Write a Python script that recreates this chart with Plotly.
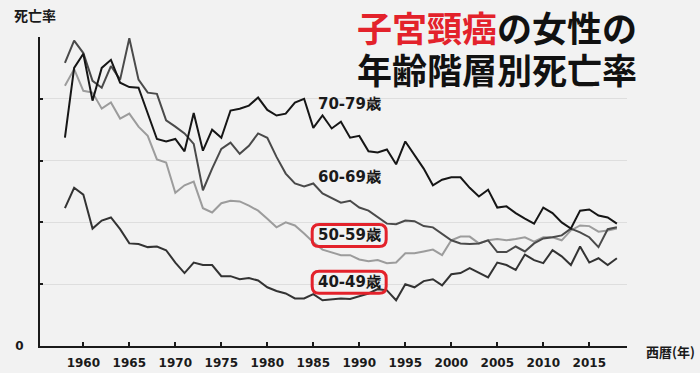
import plotly.graph_objects as go

years = list(range(1958, 2019))

rate_70_79 = [3.37, 4.50, 4.73, 3.97, 4.50, 4.63, 4.26, 4.19, 4.18, 3.77,
              3.35, 3.31, 3.35, 3.15, 3.77, 3.16, 3.50, 3.37, 3.81, 3.84,
              3.89, 4.02, 3.82, 3.73, 3.76, 3.94, 4.00, 3.53, 3.73, 3.52,
              3.63, 3.37, 3.40, 3.15, 3.13, 3.18, 2.94, 3.31, 3.08, 2.87,
              2.60, 2.69, 2.73, 2.73, 2.56, 2.42, 2.53, 2.24, 2.26, 2.15,
              2.06, 1.98, 2.24, 2.15, 2.00, 1.90, 2.19, 2.21, 2.11, 2.08,
              1.98]

rate_60_69 = [4.58, 4.94, 4.74, 4.29, 4.18, 4.53, 4.31, 4.98, 4.31, 4.10,
              4.08, 3.65, 3.55, 3.44, 3.27, 2.52, 2.87, 3.19, 3.29, 3.11,
              3.24, 3.44, 3.37, 3.06, 2.79, 2.63, 2.58, 2.63, 2.47, 2.40,
              2.32, 2.35, 2.24, 2.19, 2.08, 1.98, 1.97, 2.03, 2.02, 1.94,
              1.92, 1.82, 1.71, 1.66, 1.65, 1.66, 1.71, 1.52, 1.52, 1.61,
              1.53, 1.66, 1.74, 1.76, 1.79, 1.90, 1.84, 1.76, 1.60, 1.89,
              1.92]

rate_50_59 = [4.21, 4.48, 4.13, 4.10, 3.84, 3.94, 3.68, 3.76, 3.55, 3.40,
              3.02, 2.97, 2.48, 2.60, 2.66, 2.23, 2.16, 2.31, 2.35, 2.34,
              2.27, 2.19, 2.06, 1.92, 2.00, 1.95, 1.82, 1.68, 1.56, 1.52,
              1.47, 1.47, 1.40, 1.37, 1.39, 1.34, 1.35, 1.50, 1.50, 1.53,
              1.56, 1.47, 1.71, 1.77, 1.77, 1.66, 1.71, 1.73, 1.71, 1.73,
              1.76, 1.69, 1.76, 1.76, 1.71, 1.87, 1.95, 1.94, 1.85, 1.87,
              1.90]

rate_40_49 = [2.23, 2.56, 2.45, 1.90, 2.03, 2.08, 1.89, 1.66, 1.65, 1.60,
              1.61, 1.55, 1.35, 1.18, 1.35, 1.31, 1.31, 1.13, 1.13, 1.08,
              1.10, 1.06, 0.95, 0.89, 0.85, 0.77, 0.77, 0.84, 0.74, 0.76,
              0.77, 0.76, 0.81, 0.85, 0.92, 0.90, 0.74, 1.00, 0.95, 1.05,
              1.08, 0.98, 1.16, 1.18, 1.26, 1.18, 1.11, 1.35, 1.31, 1.23,
              1.48, 1.39, 1.34, 1.55, 1.45, 1.31, 1.61, 1.35, 1.42, 1.31,
              1.42]

series_names = ["50-59歳", "40-49歳", "60-69歳", "70-79歳"]
x_tick_years = [1960, 1965, 1970, 1975, 1980, 1985, 1990, 1995, 2000, 2005, 2010, 2015]
y_tick_vals = [0, 1, 2, 3, 4, 5]
y_tick_text = ["0", "", "", "", "", ""]

BG = "#f2f2f2"
TXT = "#1a1a1a"
RED = "#e3222b"

fig = go.Figure()
series = [
    (series_names[0], rate_50_59, "#9c9c9c"),
    (series_names[1], rate_40_49, "#333333"),
    (series_names[2], rate_60_69, "#4a4a4a"),
    (series_names[3], rate_70_79, "#161616"),
]
for name, vals, col in series:
    fig.add_trace(go.Scatter(x=years, y=vals, mode="lines", name=name,
                             line=dict(color=col, width=2), showlegend=False))

label_font = dict(family="DejaVu Sans", size=15, color=TXT, weight="bold")
label_pos = {
    "70-79歳": (1988.9, 3.92),
    "60-69歳": (1988.9, 2.73),
    "50-59歳": (1988.9, 1.79),
    "40-49歳": (1988.9, 1.03),
}
for txt, (lx, ly) in label_pos.items():
    fig.add_annotation(x=lx, y=ly, xref="x", yref="y", text=txt, showarrow=False,
                       font=label_font, xanchor="center", yanchor="middle")


def rounded_path(w, h, r):
    x0, x1, y0, y1 = -w / 2, w / 2, -h / 2, h / 2
    return (f"M {x0 + r} {y0} L {x1 - r} {y0} Q {x1} {y0} {x1} {y0 + r} "
            f"L {x1} {y1 - r} Q {x1} {y1} {x1 - r} {y1} L {x0 + r} {y1} "
            f"Q {x0} {y1} {x0} {y1 - r} L {x0} {y0 + r} Q {x0} {y0} {x0 + r} {y0} Z")


for key in ["50-59歳", "40-49歳"]:
    lx, ly = label_pos[key]
    fig.add_shape(type="path", xref="x", yref="y", xsizemode="pixel", ysizemode="pixel",
                  xanchor=lx, yanchor=ly, path=rounded_path(74, 22, 7),
                  line=dict(color=RED, width=3), layer="above")

# title, two lines
title_font = dict(family="Noto Sans CJK JP", size=35, color="#111111", weight="bold")
fig.add_annotation(xref="paper", yref="paper", x=(497 - 40) / 587, y=(346 - 26) / 309,
                   text=f"<span style='color:{RED}'>子宮頸癌</span>の女性の",
                   showarrow=False, xanchor="center", yanchor="middle", font=title_font)
fig.add_annotation(xref="paper", yref="paper", x=(497 - 40) / 587, y=(346 - 68) / 309,
                   text="年齢階層別死亡率",
                   showarrow=False, xanchor="center", yanchor="middle", font=title_font)

# axis titles
fig.add_annotation(xref="paper", yref="paper", x=(12 - 40) / 587, y=(346 - 15) / 309,
                   text="死亡率", showarrow=False, xanchor="left", yanchor="middle",
                   font=dict(family="Noto Sans CJK JP", size=14, color=TXT, weight="bold"))
fig.add_annotation(xref="paper", yref="paper", x=(697 - 40) / 587, y=(346 - 351) / 309,
                   text="西暦(年)", showarrow=False, xanchor="right", yanchor="middle",
                   font=dict(family="Noto Sans CJK JP", size=13, color=TXT, weight="bold"))

fig.update_layout(
    width=700, height=373,
    margin=dict(l=40, r=73, t=37, b=27),
    paper_bgcolor=BG, plot_bgcolor=BG,
    xaxis=dict(range=[1955.29, 2019.1], tickvals=x_tick_years, automargin=False,
               ticks="inside", ticklen=4, tickwidth=2, tickcolor=TXT,
               showline=True, linecolor=TXT, linewidth=2, showgrid=False, zeroline=False,
               tickfont=dict(family="DejaVu Sans", size=12, color=TXT, weight="bold"),
               ticklabelstandoff=5),
    yaxis=dict(range=[0, 5], tickvals=y_tick_vals, ticktext=y_tick_text, automargin=False,
               ticks="inside", ticklen=3, tickwidth=2, tickcolor=TXT,
               showline=True, linecolor=TXT, linewidth=2,
               showgrid=True, gridcolor="#dedede", gridwidth=1, zeroline=False,
               tickfont=dict(family="DejaVu Sans", size=12, color=TXT, weight="bold"),
               ticklabelstandoff=12),
)

fig.write_html("out.html", config={"displayModeBar": False},
               post_script="document.body.style.margin='0';document.body.style.background='#f2f2f2';")
